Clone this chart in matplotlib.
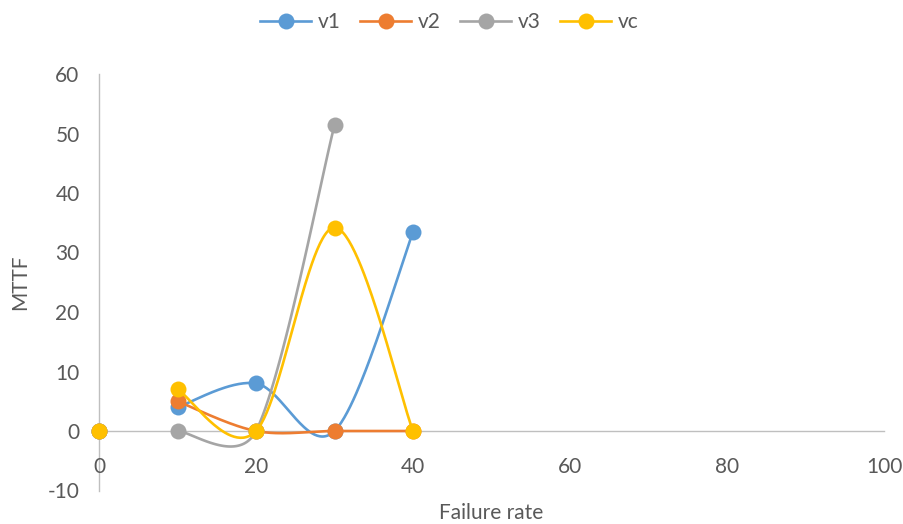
import numpy as np
import matplotlib
matplotlib.use("Agg")
import matplotlib.pyplot as plt
from matplotlib.lines import Line2D

# ---- data ----
failure_rate = [0, 10, 20, 30, 40]
series_names = ["v1", "v2", "v3", "vc"]
v1 = [0, 4, 8, 0, 33.4]
v2 = [0, 5, 0, 0, 0]
v3 = [0, 0, 0, 51.4, np.nan]
vc = [0, 7, 0, 34.2, 0]
series_values = [v1, v2, v3, vc]
series_colors = ["#5B9BD5", "#ED7D31", "#A5A5A5", "#FFC000"]
# the first row stands alone; the curve is drawn from the second row on
curve_start = 1

x_ticks = [0, 20, 40, 60, 80, 100]
y_ticks = [-10, 0, 10, 20, 30, 40, 50, 60]

plt.rcParams["font.family"] = ["Lato", "DejaVu Sans"]
plt.rcParams["axes.unicode_minus"] = False
text_color = "#595959"
axis_color = "#BFBFBF"
fs = 15

fig = plt.figure(figsize=(9.04, 5.24), dpi=100)
ax = fig.add_axes([99 / 904, 1 - 490.5 / 524, (884 - 99) / 904, (490.5 - 74) / 524])
ax.set_xlim(0, 100)
ax.set_ylim(-10, 60)


def smooth_path(xs, ys, samples=60):
    """Bezier smoothing in display space with handles of 1/6 of the
    neighbour chord, capped at half the adjacent segment length."""
    pts = ax.transData.transform(np.column_stack([xs, ys]))
    n = len(pts)
    out = [pts[0]]
    for i in range(n - 1):
        p0 = pts[i - 1] if i > 0 else pts[i]
        p1 = pts[i]
        p2 = pts[i + 1]
        p3 = pts[i + 2] if i + 2 < n else pts[i + 1]
        seg = np.linalg.norm(p2 - p1)
        h1 = (p2 - p0) / 6.0
        h2 = (p3 - p1) / 6.0
        for h in (h1, h2):
            L = np.linalg.norm(h)
            if L > 0.5 * seg and L > 0:
                h *= 0.5 * seg / L
        c1 = p1 + h1
        c2 = p2 - h2
        t = np.linspace(0, 1, samples)[1:, None]
        b = ((1 - t) ** 3) * p1 + 3 * ((1 - t) ** 2) * t * c1 \
            + 3 * (1 - t) * t ** 2 * c2 + t ** 3 * p2
        out.extend(b)
    out = np.array(out)
    return ax.transData.inverted().transform(out)


for name, vals, col in zip(series_names, series_values, series_colors):
    xs = np.array(failure_rate, dtype=float)
    ys = np.array(vals, dtype=float)
    ok = ~np.isnan(ys)
    cx = xs[curve_start:][ok[curve_start:]]
    cy = ys[curve_start:][ok[curve_start:]]
    curve = smooth_path(cx, cy)
    ax.plot(curve[:, 0], curve[:, 1], color=col, lw=1.9, solid_capstyle="round",
            zorder=3, clip_on=False)
    ax.plot(xs[ok], ys[ok], linestyle="none", marker="o", markersize=11.5,
            color=col, markeredgewidth=0, zorder=3, clip_on=False)

# axes styling: vertical axis at x=0, horizontal axis crossing at y=0
for s in ("top", "right"):
    ax.spines[s].set_visible(False)
ax.spines["left"].set_color(axis_color)
ax.spines["left"].set_linewidth(1.0)
ax.spines["bottom"].set_position(("data", 0))
ax.spines["bottom"].set_color(axis_color)
ax.spines["bottom"].set_linewidth(1.0)
ax.spines["left"].set_zorder(1)
ax.spines["bottom"].set_zorder(1)

ax.set_xticks(x_ticks)
ax.set_yticks(y_ticks)
ax.tick_params(axis="both", length=0, labelsize=fs, labelcolor=text_color)
ax.tick_params(axis="x", pad=19)
ax.tick_params(axis="y", pad=14)

ax.set_xlabel("Failure rate", fontsize=fs, color=text_color)
ax.xaxis.set_label_coords(0.5, -0.03)
ax.set_ylabel("MTTF", fontsize=fs, color=text_color)
ax.yaxis.set_label_coords(-0.088, 0.5)

handles = [Line2D([0], [0], color=c, lw=1.9, marker="o", markersize=11.5,
                  markeredgewidth=0) for c in series_colors]
fig.legend(handles, series_names, loc="center", bbox_to_anchor=(0.497, 1 - 22 / 524),
           ncol=4, frameon=False, fontsize=fs, labelcolor=text_color,
           handlelength=2.45, handletextpad=0.3, columnspacing=0.95)

fig.savefig("out.png", dpi=100)
